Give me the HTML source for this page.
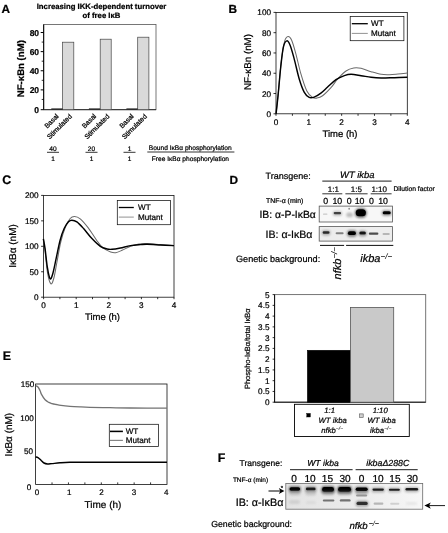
<!DOCTYPE html>
<html><head><meta charset="utf-8"><title>Figure</title>
<style>
html,body{margin:0;padding:0;background:#fff;}
svg{display:block;font-family:"Liberation Sans",sans-serif;will-change:transform;-webkit-font-smoothing:antialiased;text-rendering:geometricPrecision;}
text{stroke:#000;stroke-width:0.22px;}
tspan{stroke-width:0.05px;}
</style></head><body>
<svg width="448" height="533" viewBox="0 0 448 533">
<defs>
<filter id="bl" x="-30%" y="-80%" width="160%" height="260%"><feGaussianBlur stdDeviation="0.7"/></filter>
<filter id="bl2" x="-30%" y="-80%" width="160%" height="260%"><feGaussianBlur stdDeviation="1.1"/></filter>
<clipPath id="c1"><rect x="319.2" y="206.1" width="73.2" height="15.9"/></clipPath>
<clipPath id="c2"><rect x="319.2" y="226.6" width="73.2" height="14.5"/></clipPath>
<clipPath id="c3"><rect x="285.8" y="483.4" width="136.9" height="25.8"/></clipPath>
<filter id="bl3" x="-30%" y="-100%" width="160%" height="300%"><feGaussianBlur stdDeviation="1.3"/></filter>
<linearGradient id="gF" x1="0" x2="1" y1="0" y2="0"><stop offset="0" stop-color="#e3e3e3"/><stop offset="0.5" stop-color="#ebebeb"/><stop offset="1" stop-color="#f7f7f7"/></linearGradient>
</defs>
<rect width="448" height="533" fill="#fff"/>
<g id="panelA">
<text x="1.50" y="12.50" font-size="11.8" font-weight="bold">A</text>
<text x="101.50" y="9.00" font-size="7.75" text-anchor="middle" font-weight="bold">Increasing IKK-dependent turnover</text>
<text x="101.50" y="17.50" font-size="7.75" text-anchor="middle" font-weight="bold">of free IκB</text>
<rect x="43.70" y="24.50" width="112.30" height="85.20" fill="none" stroke="#555" stroke-width="0.8"/>
<line x1="43.70" y1="24.50" x2="43.70" y2="109.70" stroke="#000" stroke-width="1"/>
<line x1="43.70" y1="109.70" x2="156.00" y2="109.70" stroke="#222" stroke-width="0.9"/>
<line x1="40.70" y1="109.70" x2="43.70" y2="109.70" stroke="#000" stroke-width="1"/>
<text x="39.10" y="112.90" font-size="8.5" text-anchor="end" font-weight="bold">0</text>
<line x1="40.70" y1="89.88" x2="43.70" y2="89.88" stroke="#000" stroke-width="1"/>
<text x="39.10" y="93.08" font-size="8.5" text-anchor="end" font-weight="bold">20</text>
<line x1="40.70" y1="70.76" x2="43.70" y2="70.76" stroke="#000" stroke-width="1"/>
<text x="39.10" y="73.96" font-size="8.5" text-anchor="end" font-weight="bold">40</text>
<line x1="40.70" y1="51.64" x2="43.70" y2="51.64" stroke="#000" stroke-width="1"/>
<text x="39.10" y="54.84" font-size="8.5" text-anchor="end" font-weight="bold">60</text>
<line x1="40.70" y1="32.52" x2="43.70" y2="32.52" stroke="#000" stroke-width="1"/>
<text x="39.10" y="35.72" font-size="8.5" text-anchor="end" font-weight="bold">80</text>
<line x1="41.70" y1="99.44" x2="43.70" y2="99.44" stroke="#000" stroke-width="0.8"/>
<line x1="41.70" y1="80.32" x2="43.70" y2="80.32" stroke="#000" stroke-width="0.8"/>
<line x1="41.70" y1="61.20" x2="43.70" y2="61.20" stroke="#000" stroke-width="0.8"/>
<line x1="41.70" y1="42.08" x2="43.70" y2="42.08" stroke="#000" stroke-width="0.8"/>
<rect x="62.60" y="42.20" width="11.20" height="67.50" fill="#d9d9d9" stroke="#444" stroke-width="0.7"/>
<line x1="51.30" y1="109.00" x2="62.60" y2="109.00" stroke="#222" stroke-width="1.2"/>
<rect x="100.20" y="39.20" width="11.00" height="70.50" fill="#d9d9d9" stroke="#444" stroke-width="0.7"/>
<line x1="88.90" y1="109.00" x2="100.20" y2="109.00" stroke="#222" stroke-width="1.2"/>
<rect x="137.70" y="37.20" width="11.20" height="72.50" fill="#d9d9d9" stroke="#444" stroke-width="0.7"/>
<line x1="126.40" y1="109.00" x2="137.70" y2="109.00" stroke="#222" stroke-width="1.2"/>
<text x="20.80" y="68.70" font-size="9.6" text-anchor="middle" font-weight="bold" transform="rotate(-90 20.80 68.70)" dy="3.3">NF-κBn (nM)</text>
<text x="59.20" y="116.60" font-size="6.8" text-anchor="end" stroke-width="0.1" transform="rotate(-45 59.20 116.60)">Basal</text>
<text x="72.40" y="116.90" font-size="6.8" text-anchor="end" stroke-width="0.1" transform="rotate(-45 72.40 116.90)">Stimulated</text>
<text x="96.70" y="116.60" font-size="6.8" text-anchor="end" stroke-width="0.1" transform="rotate(-45 96.70 116.60)">Basal</text>
<text x="109.90" y="116.90" font-size="6.8" text-anchor="end" stroke-width="0.1" transform="rotate(-45 109.90 116.90)">Stimulated</text>
<text x="134.20" y="116.60" font-size="6.8" text-anchor="end" stroke-width="0.1" transform="rotate(-45 134.20 116.60)">Basal</text>
<text x="147.40" y="116.90" font-size="6.8" text-anchor="end" stroke-width="0.1" transform="rotate(-45 147.40 116.90)">Stimulated</text>
<text x="53.00" y="150.50" font-size="6.6" text-anchor="middle" stroke-width="0.1">40</text>
<line x1="47.00" y1="152.30" x2="59.00" y2="152.30" stroke="#000" stroke-width="0.8"/>
<text x="53.00" y="161.00" font-size="6.5" text-anchor="middle" stroke-width="0.1">1</text>
<text x="91.50" y="150.50" font-size="6.6" text-anchor="middle" stroke-width="0.1">20</text>
<line x1="85.50" y1="152.30" x2="97.50" y2="152.30" stroke="#000" stroke-width="0.8"/>
<text x="91.50" y="161.00" font-size="6.5" text-anchor="middle" stroke-width="0.1">1</text>
<text x="129.50" y="150.50" font-size="6.6" text-anchor="middle" stroke-width="0.1">1</text>
<line x1="123.50" y1="152.30" x2="135.50" y2="152.30" stroke="#000" stroke-width="0.8"/>
<text x="129.50" y="161.00" font-size="6.5" text-anchor="middle" stroke-width="0.1">1</text>
<text x="190.20" y="150.00" font-size="6.62" text-anchor="middle" stroke-width="0.1">Bound IκBα phosphorylation</text>
<line x1="147.30" y1="152.00" x2="234.40" y2="152.00" stroke="#000" stroke-width="0.8"/>
<text x="190.40" y="161.20" font-size="6.62" text-anchor="middle" stroke-width="0.1">Free IκBα phosphorylation</text>
</g>
<g id="panelB">
<text x="228.40" y="12.50" font-size="11.8" font-weight="bold">B</text>
<rect x="276.00" y="12.40" width="131.30" height="101.40" fill="none" stroke="#111" stroke-width="0.8"/>
<line x1="273.50" y1="113.80" x2="276.00" y2="113.80" stroke="#000" stroke-width="0.8"/>
<text x="271.00" y="116.80" font-size="8.2" text-anchor="end">0</text>
<line x1="273.50" y1="93.52" x2="276.00" y2="93.52" stroke="#000" stroke-width="0.8"/>
<text x="271.00" y="96.52" font-size="8.2" text-anchor="end">20</text>
<line x1="273.50" y1="73.24" x2="276.00" y2="73.24" stroke="#000" stroke-width="0.8"/>
<text x="271.00" y="76.24" font-size="8.2" text-anchor="end">40</text>
<line x1="273.50" y1="52.96" x2="276.00" y2="52.96" stroke="#000" stroke-width="0.8"/>
<text x="271.00" y="55.96" font-size="8.2" text-anchor="end">60</text>
<line x1="273.50" y1="32.68" x2="276.00" y2="32.68" stroke="#000" stroke-width="0.8"/>
<text x="271.00" y="35.68" font-size="8.2" text-anchor="end">80</text>
<line x1="273.50" y1="12.40" x2="276.00" y2="12.40" stroke="#000" stroke-width="0.8"/>
<text x="271.00" y="15.40" font-size="8.2" text-anchor="end">100</text>
<line x1="276.00" y1="113.80" x2="276.00" y2="115.80" stroke="#000" stroke-width="0.8"/>
<text x="276.00" y="125.20" font-size="8.2" text-anchor="middle">0</text>
<line x1="292.41" y1="113.80" x2="292.41" y2="115.80" stroke="#000" stroke-width="0.8"/>
<line x1="308.82" y1="113.80" x2="308.82" y2="115.80" stroke="#000" stroke-width="0.8"/>
<text x="308.82" y="125.20" font-size="8.2" text-anchor="middle">1</text>
<line x1="325.24" y1="113.80" x2="325.24" y2="115.80" stroke="#000" stroke-width="0.8"/>
<line x1="341.65" y1="113.80" x2="341.65" y2="115.80" stroke="#000" stroke-width="0.8"/>
<text x="341.65" y="125.20" font-size="8.2" text-anchor="middle">2</text>
<line x1="358.06" y1="113.80" x2="358.06" y2="115.80" stroke="#000" stroke-width="0.8"/>
<line x1="374.48" y1="113.80" x2="374.48" y2="115.80" stroke="#000" stroke-width="0.8"/>
<text x="374.48" y="125.20" font-size="8.2" text-anchor="middle">3</text>
<line x1="390.89" y1="113.80" x2="390.89" y2="115.80" stroke="#000" stroke-width="0.8"/>
<line x1="407.30" y1="113.80" x2="407.30" y2="115.80" stroke="#000" stroke-width="0.8"/>
<text x="407.30" y="125.20" font-size="8.2" text-anchor="middle">4</text>
<path d="M276.05,113.83 C276.44,110.20 277.50,100.99 278.40,92.07 C279.29,83.14 280.35,68.80 281.41,60.26 C282.47,51.72 283.64,44.81 284.76,40.84 C285.87,36.88 286.99,36.66 288.10,36.49 C289.22,36.32 290.17,36.99 291.45,39.84 C292.74,42.68 294.24,47.93 295.80,53.57 C297.37,59.20 298.98,67.40 300.83,73.65 C302.67,79.90 304.90,87.10 306.85,91.06 C308.81,95.02 310.87,96.25 312.54,97.42 C314.22,98.59 315.22,98.37 316.90,98.09 C318.57,97.81 320.24,97.48 322.59,95.75 C324.93,94.02 328.45,90.50 330.96,87.71 C333.47,84.92 335.14,81.80 337.65,79.01 C340.16,76.22 343.34,72.82 346.02,70.97 C348.70,69.13 351.21,68.41 353.72,67.96 C356.23,67.51 358.19,67.68 361.09,68.30 C363.99,68.91 367.78,70.64 371.13,71.64 C374.48,72.65 378.11,73.82 381.17,74.32 C384.24,74.82 386.75,74.71 389.54,74.66 C392.33,74.60 394.96,74.27 397.91,73.99 C400.87,73.71 405.73,73.15 407.29,72.98" fill="none" stroke="#6a6a6a" stroke-width="1.05"/>
<path d="M276.05,113.83 C276.39,110.76 277.28,103.23 278.06,95.41 C278.84,87.60 279.85,75.05 280.74,66.96 C281.63,58.87 282.41,51.22 283.42,46.87 C284.42,42.52 285.65,41.12 286.77,40.84 C287.88,40.56 288.89,42.24 290.11,45.20 C291.34,48.15 292.62,53.01 294.13,58.59 C295.64,64.17 297.48,73.09 299.15,78.67 C300.83,84.25 302.50,88.94 304.17,92.07 C305.85,95.19 307.52,96.59 309.20,97.42 C310.87,98.26 312.26,97.81 314.22,97.09 C316.17,96.36 318.68,94.74 320.91,93.07 C323.15,91.40 325.10,89.28 327.61,87.04 C330.12,84.81 333.19,81.58 335.98,79.68 C338.77,77.78 341.84,76.55 344.35,75.66 C346.86,74.77 348.25,74.32 351.04,74.32 C353.83,74.32 357.74,75.16 361.09,75.66 C364.44,76.16 367.78,76.94 371.13,77.34 C374.48,77.73 377.27,77.95 381.17,78.00 C385.08,78.06 390.21,77.78 394.57,77.67 C398.92,77.56 405.17,77.39 407.29,77.34" fill="none" stroke="#000" stroke-width="1.45"/>
<rect x="350.20" y="16.40" width="53.70" height="24.30" fill="#fff" stroke="#111" stroke-width="0.75"/>
<line x1="351.80" y1="23.70" x2="367.80" y2="23.70" stroke="#000" stroke-width="1.3"/>
<text x="371.00" y="26.30" font-size="8.1">WT</text>
<line x1="351.80" y1="33.40" x2="367.80" y2="33.40" stroke="#808080" stroke-width="0.85"/>
<text x="371.00" y="35.90" font-size="8.1">Mutant</text>
<text x="247.00" y="62.00" font-size="9.8" text-anchor="middle" transform="rotate(-90 247.00 62.00)" dy="3.5">NF-κBn (nM)</text>
<text x="340.00" y="137.30" font-size="9.5" text-anchor="middle">Time (h)</text>
</g>
<g id="panelC">
<text x="2.20" y="184.30" font-size="12.4" font-weight="bold">C</text>
<rect x="43.60" y="195.40" width="130.40" height="101.80" fill="none" stroke="#111" stroke-width="0.8"/>
<line x1="41.10" y1="297.20" x2="43.60" y2="297.20" stroke="#000" stroke-width="0.8"/>
<text x="38.60" y="300.20" font-size="8.2" text-anchor="end">0</text>
<line x1="41.10" y1="271.75" x2="43.60" y2="271.75" stroke="#000" stroke-width="0.8"/>
<text x="38.60" y="274.75" font-size="8.2" text-anchor="end">50</text>
<line x1="41.10" y1="246.30" x2="43.60" y2="246.30" stroke="#000" stroke-width="0.8"/>
<text x="38.60" y="249.30" font-size="8.2" text-anchor="end">100</text>
<line x1="41.10" y1="220.85" x2="43.60" y2="220.85" stroke="#000" stroke-width="0.8"/>
<text x="38.60" y="223.85" font-size="8.2" text-anchor="end">150</text>
<line x1="41.10" y1="195.40" x2="43.60" y2="195.40" stroke="#000" stroke-width="0.8"/>
<text x="38.60" y="198.40" font-size="8.2" text-anchor="end">200</text>
<line x1="43.60" y1="297.20" x2="43.60" y2="299.20" stroke="#000" stroke-width="0.8"/>
<text x="43.60" y="308.40" font-size="8.2" text-anchor="middle">0</text>
<line x1="59.90" y1="297.20" x2="59.90" y2="299.20" stroke="#000" stroke-width="0.8"/>
<line x1="76.20" y1="297.20" x2="76.20" y2="299.20" stroke="#000" stroke-width="0.8"/>
<text x="76.20" y="308.40" font-size="8.2" text-anchor="middle">1</text>
<line x1="92.50" y1="297.20" x2="92.50" y2="299.20" stroke="#000" stroke-width="0.8"/>
<line x1="108.80" y1="297.20" x2="108.80" y2="299.20" stroke="#000" stroke-width="0.8"/>
<text x="108.80" y="308.40" font-size="8.2" text-anchor="middle">2</text>
<line x1="125.10" y1="297.20" x2="125.10" y2="299.20" stroke="#000" stroke-width="0.8"/>
<line x1="141.40" y1="297.20" x2="141.40" y2="299.20" stroke="#000" stroke-width="0.8"/>
<text x="141.40" y="308.40" font-size="8.2" text-anchor="middle">3</text>
<line x1="157.70" y1="297.20" x2="157.70" y2="299.20" stroke="#000" stroke-width="0.8"/>
<line x1="174.00" y1="297.20" x2="174.00" y2="299.20" stroke="#000" stroke-width="0.8"/>
<text x="174.00" y="308.40" font-size="8.2" text-anchor="middle">4</text>
<path d="M43.39,238.92 C43.67,240.93 44.37,245.28 45.07,250.97 C45.76,256.67 46.60,267.60 47.58,273.07 C48.55,278.54 49.86,283.00 50.92,283.78 C51.98,284.56 52.93,281.38 53.94,277.76 C54.94,274.13 55.81,267.99 56.95,262.02 C58.09,256.05 59.38,247.79 60.80,241.94 C62.22,236.08 63.92,230.78 65.49,226.87 C67.05,222.96 68.67,220.23 70.17,218.50 C71.68,216.77 72.85,216.44 74.53,216.49 C76.20,216.55 77.93,216.94 80.22,218.83 C82.51,220.73 85.52,224.30 88.25,227.87 C90.99,231.45 94.17,236.91 96.62,240.26 C99.08,243.61 100.64,246.01 102.98,247.96 C105.33,249.91 108.56,251.20 110.68,251.98 C112.80,252.76 113.81,252.93 115.70,252.65 C117.60,252.37 119.61,251.36 122.07,250.30 C124.52,249.24 127.65,247.35 130.44,246.29 C133.23,245.23 136.01,244.39 138.80,243.94 C141.59,243.50 143.55,243.50 147.17,243.61 C150.80,243.72 156.10,244.28 160.57,244.61 C165.03,244.95 171.73,245.45 173.96,245.62" fill="none" stroke="#6a6a6a" stroke-width="1.05"/>
<path d="M43.39,238.92 C43.67,240.54 44.40,243.83 45.07,248.63 C45.73,253.43 46.57,262.69 47.41,267.71 C48.25,272.74 49.19,277.76 50.09,278.76 C50.98,279.77 51.76,277.09 52.77,273.74 C53.77,270.39 54.89,264.25 56.11,258.67 C57.34,253.09 58.79,245.28 60.13,240.26 C61.47,235.24 62.75,231.61 64.15,228.54 C65.54,225.47 67.22,223.24 68.50,221.85 C69.78,220.45 70.45,220.17 71.85,220.17 C73.24,220.17 74.92,220.45 76.87,221.85 C78.82,223.24 81.05,225.75 83.57,228.54 C86.08,231.33 89.15,235.63 91.94,238.59 C94.72,241.54 97.79,244.56 100.30,246.29 C102.82,248.02 105.05,248.46 107.00,248.97 C108.95,249.47 109.79,249.47 112.02,249.30 C114.25,249.13 117.32,248.57 120.39,247.96 C123.46,247.35 127.09,246.18 130.44,245.62 C133.78,245.06 137.69,244.84 140.48,244.61 C143.27,244.39 143.83,244.22 147.17,244.28 C150.52,244.33 156.10,244.72 160.57,244.95 C165.03,245.17 171.73,245.51 173.96,245.62" fill="none" stroke="#000" stroke-width="1.45"/>
<rect x="117.30" y="200.40" width="53.30" height="24.30" fill="#fff" stroke="#111" stroke-width="0.75"/>
<line x1="118.80" y1="207.50" x2="133.80" y2="207.50" stroke="#000" stroke-width="1.3"/>
<text x="138.00" y="210.30" font-size="8.1">WT</text>
<line x1="118.80" y1="217.10" x2="133.80" y2="217.10" stroke="#808080" stroke-width="0.85"/>
<text x="138.00" y="219.90" font-size="8.1">Mutant</text>
<text x="12.30" y="246.00" font-size="10" text-anchor="middle" transform="rotate(-90 12.30 246.00)" dy="3.5">IκBα (nM)</text>
<text x="102.50" y="320.30" font-size="9.5" text-anchor="middle">Time (h)</text>
</g>
<g id="panelE">
<text x="2.80" y="359.60" font-size="12.4" font-weight="bold">E</text>
<rect x="35.60" y="384.00" width="131.40" height="100.40" fill="none" stroke="#111" stroke-width="0.8"/>
<text x="31.30" y="489.60" font-size="8.1" text-anchor="end">0</text>
<text x="33.00" y="454.13" font-size="8.1" text-anchor="end">50</text>
<text x="33.80" y="420.67" font-size="8.1" text-anchor="end">100</text>
<text x="34.20" y="387.20" font-size="8.1" text-anchor="end">150</text>
<text x="37.00" y="494.80" font-size="8.0" text-anchor="middle">0</text>
<line x1="52.03" y1="484.40" x2="52.03" y2="482.40" stroke="#000" stroke-width="0.8"/>
<line x1="68.45" y1="484.40" x2="68.45" y2="482.40" stroke="#000" stroke-width="0.8"/>
<text x="69.30" y="494.80" font-size="8.0" text-anchor="middle">1</text>
<line x1="84.88" y1="484.40" x2="84.88" y2="482.40" stroke="#000" stroke-width="0.8"/>
<line x1="101.30" y1="484.40" x2="101.30" y2="482.40" stroke="#000" stroke-width="0.8"/>
<text x="101.60" y="494.80" font-size="8.0" text-anchor="middle">2</text>
<line x1="117.72" y1="484.40" x2="117.72" y2="482.40" stroke="#000" stroke-width="0.8"/>
<line x1="134.15" y1="484.40" x2="134.15" y2="482.40" stroke="#000" stroke-width="0.8"/>
<text x="133.90" y="494.80" font-size="8.0" text-anchor="middle">3</text>
<line x1="150.58" y1="484.40" x2="150.58" y2="482.40" stroke="#000" stroke-width="0.8"/>
<text x="166.20" y="494.80" font-size="8.0" text-anchor="middle">4</text>
<path d="M35.60,385.80 C36.00,386.00 37.27,386.22 38.00,387.00 C38.73,387.78 39.42,389.27 40.00,390.50 C40.58,391.73 40.65,392.85 41.50,394.40 C42.35,395.95 43.88,398.47 45.10,399.80 C46.32,401.13 47.65,401.77 48.80,402.40 C49.95,403.03 50.80,403.25 52.00,403.60 C53.20,403.95 54.50,404.20 56.00,404.50 C57.50,404.80 58.67,405.10 61.00,405.40 C63.33,405.70 66.83,406.05 70.00,406.30 C73.17,406.55 76.67,406.73 80.00,406.90 C83.33,407.07 85.00,407.17 90.00,407.30 C95.00,407.43 103.33,407.58 110.00,407.70 C116.67,407.82 120.50,407.92 130.00,408.00 C139.50,408.08 160.83,408.17 167.00,408.20" fill="none" stroke="#737373" stroke-width="1.3"/>
<path d="M35.60,457.00 C36.00,457.10 37.10,457.05 38.00,457.60 C38.90,458.15 40.00,459.40 41.00,460.30 C42.00,461.20 42.92,462.38 44.00,463.00 C45.08,463.62 46.17,463.90 47.50,464.00 C48.83,464.10 49.92,463.80 52.00,463.60 C54.08,463.40 57.00,463.02 60.00,462.80 C63.00,462.58 65.00,462.40 70.00,462.30 C75.00,462.20 81.67,462.22 90.00,462.20 C98.33,462.18 107.17,462.20 120.00,462.20 C132.83,462.20 159.17,462.20 167.00,462.20" fill="none" stroke="#000" stroke-width="1.45"/>
<rect x="109.30" y="424.30" width="49.30" height="22.10" fill="#fff" stroke="#111" stroke-width="0.75"/>
<line x1="110.00" y1="431.40" x2="122.90" y2="431.40" stroke="#000" stroke-width="1.55"/>
<text x="125.70" y="434.30" font-size="8.1">WT</text>
<line x1="110.00" y1="440.40" x2="122.90" y2="440.40" stroke="#858585" stroke-width="1.2"/>
<text x="125.70" y="443.30" font-size="8.1">Mutant</text>
<text x="9.00" y="434.60" font-size="10" text-anchor="middle" transform="rotate(-90 9.00 434.60)" dy="3.5">IκBα (nM)</text>
<text x="103.00" y="507.50" font-size="10" text-anchor="middle">Time (h)</text>
</g>
<g id="panelD">
<text x="229.60" y="183.90" font-size="11.8" font-weight="bold">D</text>
<text x="265.50" y="178.50" font-size="9.0">Transgene:</text>
<text x="357.30" y="177.60" font-size="9.4" text-anchor="middle" font-style="italic">WT ikba</text>
<line x1="322.30" y1="181.10" x2="391.60" y2="181.10" stroke="#000" stroke-width="0.9"/>
<text x="333.40" y="191.70" font-size="8.0" text-anchor="middle">1:1</text>
<text x="356.40" y="191.70" font-size="8.0" text-anchor="middle">1:5</text>
<text x="379.20" y="191.70" font-size="8.0" text-anchor="middle">1:10</text>
<line x1="322.30" y1="193.80" x2="342.30" y2="193.80" stroke="#000" stroke-width="0.8"/>
<line x1="345.40" y1="193.80" x2="367.60" y2="193.80" stroke="#000" stroke-width="0.8"/>
<line x1="370.70" y1="193.80" x2="391.60" y2="193.80" stroke="#000" stroke-width="0.8"/>
<text x="393.40" y="191.00" font-size="6.75" stroke-width="0.1">Dilution factor</text>
<text x="266.00" y="203.10" font-size="6.9" stroke-width="0.1">TNF-α (min)</text>
<text x="325.60" y="203.60" font-size="8.8" text-anchor="middle">0</text>
<text x="337.30" y="203.60" font-size="8.8" text-anchor="middle">10</text>
<text x="349.20" y="203.60" font-size="8.8" text-anchor="middle">0</text>
<text x="359.60" y="203.60" font-size="8.8" text-anchor="middle">10</text>
<text x="371.50" y="203.60" font-size="8.8" text-anchor="middle">0</text>
<text x="383.10" y="203.60" font-size="8.8" text-anchor="middle">10</text>
<rect x="319.20" y="206.10" width="73.20" height="15.90" fill="#f7f7f7" stroke="none" stroke-width="0"/>
<g clip-path="url(#c1)">
<rect x="323.0" y="213.6" width="4.4" height="1.2" rx="0.6" fill="#999" opacity="0.5" filter="url(#bl)"/>
<rect x="332.7" y="210.7" width="9.4" height="5.4" rx="2.7" fill="#777" opacity="0.4" filter="url(#bl3)"/>
<rect x="333.7" y="211.9" width="7.4" height="2.4" rx="1.2" fill="#2a2a2a" opacity="0.85" filter="url(#bl)"/>
<rect x="346.2" y="212.6" width="6.8" height="4.6" rx="2.3" fill="#999" opacity="0.6" filter="url(#bl2)"/>
<rect x="348.3" y="207.8" width="1.7" height="2.0" rx="0.8" fill="#666" opacity="0.7" filter="url(#bl)"/>
<rect x="354.7" y="208.1" width="12.2" height="10.0" rx="5.0" fill="#222" opacity="0.6" filter="url(#bl3)"/>
<rect x="355.7" y="209.3" width="10.2" height="7.0" rx="3.5" fill="#000" opacity="1" filter="url(#bl)"/>
<rect x="381.7" y="210.0" width="10.0" height="6.0" rx="3.0" fill="#444" opacity="0.5" filter="url(#bl3)"/>
<rect x="382.7" y="211.2" width="8.0" height="3.0" rx="1.5" fill="#000" opacity="1" filter="url(#bl)"/>
</g>
<rect x="319.20" y="206.10" width="73.20" height="15.90" fill="none" stroke="#555" stroke-width="0.8"/>
<rect x="319.20" y="226.60" width="73.20" height="14.50" fill="#ededed" stroke="none" stroke-width="0"/>
<g clip-path="url(#c2)">
<rect x="321.7" y="230.0" width="8.8" height="5.6" rx="2.8" fill="#666" opacity="0.45" filter="url(#bl3)"/>
<rect x="322.7" y="231.2" width="6.8" height="2.6" rx="1.3" fill="#222" opacity="0.95" filter="url(#bl)"/>
<rect x="335.6" y="232.3" width="8.0" height="2.0" rx="1.0" fill="#666" opacity="0.8" filter="url(#bl)"/>
<rect x="346.9" y="230.1" width="10.0" height="6.8" rx="3.4" fill="#333" opacity="0.55" filter="url(#bl3)"/>
<rect x="347.9" y="231.3" width="8.0" height="3.8" rx="1.9" fill="#000" opacity="1" filter="url(#bl)"/>
<rect x="358.3" y="230.4" width="8.6" height="6.0" rx="3.0" fill="#555" opacity="0.5" filter="url(#bl3)"/>
<rect x="359.3" y="231.6" width="6.6" height="3.0" rx="1.5" fill="#111" opacity="0.95" filter="url(#bl)"/>
<rect x="368.8" y="232.6" width="9.6" height="2.2" rx="1.1" fill="#333" opacity="0.85" filter="url(#bl)"/>
<rect x="382.5" y="233.0" width="7.3" height="2.0" rx="1.0" fill="#999" opacity="0.65" filter="url(#bl)"/>
</g>
<rect x="319.20" y="226.60" width="73.20" height="14.50" fill="none" stroke="#555" stroke-width="0.8"/>
<text x="259.40" y="218.40" font-size="10.4">IB: α-P-IκBα</text>
<text x="265.50" y="237.90" font-size="10.6">IB: α-IκBα</text>
<line x1="320.00" y1="245.40" x2="344.10" y2="245.40" stroke="#000" stroke-width="0.95"/>
<line x1="346.10" y1="245.40" x2="393.30" y2="245.40" stroke="#000" stroke-width="0.95"/>
<text x="236.00" y="261.60" font-size="9.15">Genetic background:</text>
<text font-size="11" font-style="italic" transform="translate(341.3 279.4) rotate(-90)">nfkb<tspan font-size="8" dy="-4.2">−/−</tspan></text>
<text x="360.3" y="261.5" font-size="11" font-style="italic">ikba<tspan font-size="8" dy="-2.8">−/−</tspan></text>
<rect x="274.60" y="294.60" width="151.10" height="107.60" fill="none" stroke="#666" stroke-width="0.9"/>
<line x1="274.60" y1="294.60" x2="274.60" y2="402.20" stroke="#000" stroke-width="0.9"/>
<line x1="274.20" y1="402.20" x2="425.70" y2="402.20" stroke="#000" stroke-width="0.9"/>
<line x1="272.60" y1="402.20" x2="274.60" y2="402.20" stroke="#000" stroke-width="0.8"/>
<text x="269.50" y="405.10" font-size="8.2" text-anchor="end">0</text>
<line x1="272.60" y1="391.44" x2="274.60" y2="391.44" stroke="#000" stroke-width="0.8"/>
<text x="269.50" y="394.34" font-size="8.2" text-anchor="end">0.5</text>
<line x1="272.60" y1="380.68" x2="274.60" y2="380.68" stroke="#000" stroke-width="0.8"/>
<text x="269.50" y="383.58" font-size="8.2" text-anchor="end">1</text>
<line x1="272.60" y1="369.92" x2="274.60" y2="369.92" stroke="#000" stroke-width="0.8"/>
<text x="269.50" y="372.82" font-size="8.2" text-anchor="end">1.5</text>
<line x1="272.60" y1="359.16" x2="274.60" y2="359.16" stroke="#000" stroke-width="0.8"/>
<text x="269.50" y="362.06" font-size="8.2" text-anchor="end">2</text>
<line x1="272.60" y1="348.40" x2="274.60" y2="348.40" stroke="#000" stroke-width="0.8"/>
<text x="269.50" y="351.30" font-size="8.2" text-anchor="end">2.5</text>
<line x1="272.60" y1="337.64" x2="274.60" y2="337.64" stroke="#000" stroke-width="0.8"/>
<text x="269.50" y="340.54" font-size="8.2" text-anchor="end">3</text>
<line x1="272.60" y1="326.88" x2="274.60" y2="326.88" stroke="#000" stroke-width="0.8"/>
<text x="269.50" y="329.78" font-size="8.2" text-anchor="end">3.5</text>
<line x1="272.60" y1="316.12" x2="274.60" y2="316.12" stroke="#000" stroke-width="0.8"/>
<text x="269.50" y="319.02" font-size="8.2" text-anchor="end">4</text>
<line x1="272.60" y1="305.36" x2="274.60" y2="305.36" stroke="#000" stroke-width="0.8"/>
<text x="269.50" y="308.26" font-size="8.2" text-anchor="end">4.5</text>
<line x1="272.60" y1="294.60" x2="274.60" y2="294.60" stroke="#000" stroke-width="0.8"/>
<text x="269.50" y="297.50" font-size="8.2" text-anchor="end">5</text>
<rect x="307.40" y="350.30" width="43.10" height="51.90" fill="#000" stroke="#000" stroke-width="0.6"/>
<rect x="350.50" y="307.50" width="43.20" height="94.70" fill="#c9c9c9" stroke="#555" stroke-width="0.8"/>
<text x="247.70" y="348.70" font-size="7.5" text-anchor="middle" stroke-width="0.1" transform="rotate(-90 247.70 348.70)" dy="2.6">Phospho-IκBα/total IκBα</text>
<rect x="294.50" y="404.30" width="114.80" height="32.20" fill="#fff" stroke="#000" stroke-width="0.9"/>
<rect x="306.80" y="413.40" width="3.60" height="3.60" fill="#000" stroke="#000" stroke-width="0.4"/>
<rect x="359.60" y="413.90" width="3.60" height="3.60" fill="#d0d0d0" stroke="#555" stroke-width="0.6"/>
<text x="329.60" y="413.30" font-size="7.7" text-anchor="middle" font-style="italic" stroke-width="0.1">1:1</text>
<text x="332.70" y="423.00" font-size="7.7" text-anchor="middle" font-style="italic" stroke-width="0.1">WT ikba</text>
<text x="332.2" y="432.5" font-size="7.7" font-style="italic" text-anchor="middle" stroke-width="0.1">nfkb<tspan font-size="5" dy="-2.8">−/−</tspan></text>
<text x="380.20" y="413.30" font-size="7.7" text-anchor="middle" font-style="italic" stroke-width="0.1">1:10</text>
<text x="381.60" y="423.00" font-size="7.7" text-anchor="middle" font-style="italic" stroke-width="0.1">WT ikba</text>
<text x="380.7" y="432.5" font-size="7.7" font-style="italic" text-anchor="middle" stroke-width="0.1">ikba<tspan font-size="5" dy="-2.8">−/−</tspan></text>
</g>
<g id="panelF">
<text x="217.80" y="462.10" font-size="12.4" font-weight="bold">F</text>
<text x="239.60" y="466.00" font-size="8.5">Transgene:</text>
<text x="323.00" y="466.30" font-size="8.6" text-anchor="middle" font-style="italic">WT ikba</text>
<text x="387.80" y="466.30" font-size="8.8" text-anchor="middle" font-style="italic">ikbaΔ288C</text>
<line x1="290.00" y1="469.70" x2="352.60" y2="469.70" stroke="#000" stroke-width="0.9"/>
<line x1="355.60" y1="469.70" x2="417.70" y2="469.70" stroke="#000" stroke-width="0.9"/>
<text x="232.90" y="481.90" font-size="6.5" stroke-width="0.1">TNF-α (min)</text>
<text x="294.10" y="481.50" font-size="10.1" text-anchor="middle">0</text>
<text x="310.10" y="481.50" font-size="10.1" text-anchor="middle">10</text>
<text x="327.40" y="481.50" font-size="10.1" text-anchor="middle">15</text>
<text x="345.10" y="481.50" font-size="10.1" text-anchor="middle">30</text>
<text x="361.50" y="481.50" font-size="10.1" text-anchor="middle">0</text>
<text x="378.00" y="481.50" font-size="10.1" text-anchor="middle">10</text>
<text x="394.90" y="481.50" font-size="10.1" text-anchor="middle">15</text>
<text x="412.30" y="481.50" font-size="10.1" text-anchor="middle">30</text>
<rect x="285.8" y="483.4" width="136.9" height="25.8" fill="url(#gF)"/>
<g clip-path="url(#c3)">
<rect x="288.5" y="486.0" width="12.6" height="6.6" rx="3.3" fill="#333" opacity="0.6" filter="url(#bl3)"/>
<rect x="289.5" y="487.2" width="10.6" height="3.6" rx="1.8" fill="#000" opacity="1" filter="url(#bl)"/>
<rect x="304.9" y="486.3" width="11.7" height="5.8" rx="2.9" fill="#444" opacity="0.5" filter="url(#bl3)"/>
<rect x="305.9" y="487.5" width="9.7" height="2.8" rx="1.4" fill="#111" opacity="0.9" filter="url(#bl)"/>
<rect x="321.1" y="485.9" width="13.9" height="7.6" rx="3.8" fill="#222" opacity="0.7" filter="url(#bl3)"/>
<rect x="322.1" y="487.1" width="11.9" height="4.6" rx="2.3" fill="#000" opacity="1" filter="url(#bl)"/>
<rect x="337.1" y="485.8" width="15.0" height="7.8" rx="3.9" fill="#222" opacity="0.7" filter="url(#bl3)"/>
<rect x="338.1" y="487.0" width="13.0" height="4.8" rx="2.4" fill="#000" opacity="1" filter="url(#bl)"/>
<rect x="354.7" y="486.4" width="14.0" height="6.4" rx="3.2" fill="#333" opacity="0.55" filter="url(#bl3)"/>
<rect x="355.7" y="487.6" width="12.0" height="3.4" rx="1.7" fill="#000" opacity="1" filter="url(#bl)"/>
<rect x="371.5" y="487.3" width="13.4" height="5.2" rx="2.6" fill="#555" opacity="0.4" filter="url(#bl3)"/>
<rect x="372.5" y="488.5" width="11.4" height="2.2" rx="1.1" fill="#111" opacity="0.9" filter="url(#bl)"/>
<rect x="387.9" y="487.6" width="13.0" height="5.0" rx="2.5" fill="#555" opacity="0.35" filter="url(#bl3)"/>
<rect x="388.9" y="488.8" width="11.0" height="2.0" rx="1.0" fill="#111" opacity="0.9" filter="url(#bl)"/>
<rect x="404.5" y="486.9" width="14.6" height="5.4" rx="2.7" fill="#555" opacity="0.4" filter="url(#bl3)"/>
<rect x="405.5" y="488.1" width="12.6" height="2.4" rx="1.2" fill="#111" opacity="0.9" filter="url(#bl)"/>
<rect x="289.0" y="490.5" width="11.6" height="5.0" rx="2.5" fill="#777" opacity="0.28" filter="url(#bl3)"/>
<rect x="305.4" y="490.5" width="10.7" height="5.0" rx="2.5" fill="#777" opacity="0.28" filter="url(#bl3)"/>
<rect x="321.6" y="490.5" width="12.9" height="5.0" rx="2.5" fill="#777" opacity="0.28" filter="url(#bl3)"/>
<rect x="337.6" y="490.5" width="14.0" height="5.0" rx="2.5" fill="#777" opacity="0.28" filter="url(#bl3)"/>
<rect x="355.2" y="490.5" width="13.0" height="5.0" rx="2.5" fill="#777" opacity="0.28" filter="url(#bl3)"/>
<rect x="289.0" y="500.0" width="11.0" height="4.0" rx="2.0" fill="#bbb" opacity="0.5" filter="url(#bl2)"/>
<rect x="306.0" y="501.0" width="10.0" height="3.0" rx="1.5" fill="#ccc" opacity="0.45" filter="url(#bl2)"/>
<rect x="322.8" y="499.4" width="11.6" height="2.0" rx="1.0" fill="#555" opacity="0.8" filter="url(#bl)"/>
<rect x="339.8" y="499.2" width="10.8" height="2.4" rx="1.2" fill="#555" opacity="0.8" filter="url(#bl)"/>
<rect x="356.0" y="494.4" width="11.2" height="2.2" rx="1.1" fill="#777" opacity="0.7" filter="url(#bl)"/>
<rect x="355.5" y="500.6" width="13.2" height="6.2" rx="3.1" fill="#666" opacity="0.5" filter="url(#bl3)"/>
<rect x="356.5" y="501.8" width="11.2" height="3.2" rx="1.6" fill="#222" opacity="0.9" filter="url(#bl)"/>
<rect x="373.6" y="502.6" width="9.8" height="2.2" rx="1.1" fill="#999" opacity="0.65" filter="url(#bl)"/>
<rect x="390.2" y="502.8" width="9.2" height="2.0" rx="1.0" fill="#bbb" opacity="0.6" filter="url(#bl)"/>
<rect x="406.0" y="502.6" width="11.0" height="2.0" rx="1.0" fill="#ccc" opacity="0.5" filter="url(#bl2)"/>
</g>
<rect x="285.80" y="483.40" width="136.90" height="25.80" fill="none" stroke="#6a6a6a" stroke-width="0.8"/>
<path d="M268.5,491 H281" stroke="#000" stroke-width="1" fill="none"/><path d="M284.4,491 l-5.6,-3.1 l1.5,3.1 l-1.5,3.1 z" fill="#000"/>
<text x="281.90" y="489.60" font-size="6" text-anchor="middle" stroke-width="0.1">*</text>
<path d="M445,505.6 H428" stroke="#000" stroke-width="0.9" fill="none"/><path d="M424.4,505.6 l6.4,-3.2 l-1.7,3.2 l1.7,3.2 z" fill="#000"/>
<text x="235.70" y="506.10" font-size="10.75">IB: α-IκBα</text>
<text x="211.20" y="527.40" font-size="8.75">Genetic background:</text>
<text x="349.4" y="528.6" font-size="9.6" font-style="italic">nfkb<tspan font-size="7.2" dx="1.1" dy="-2.4">−/−</tspan></text>
</g>
</svg></body></html>
